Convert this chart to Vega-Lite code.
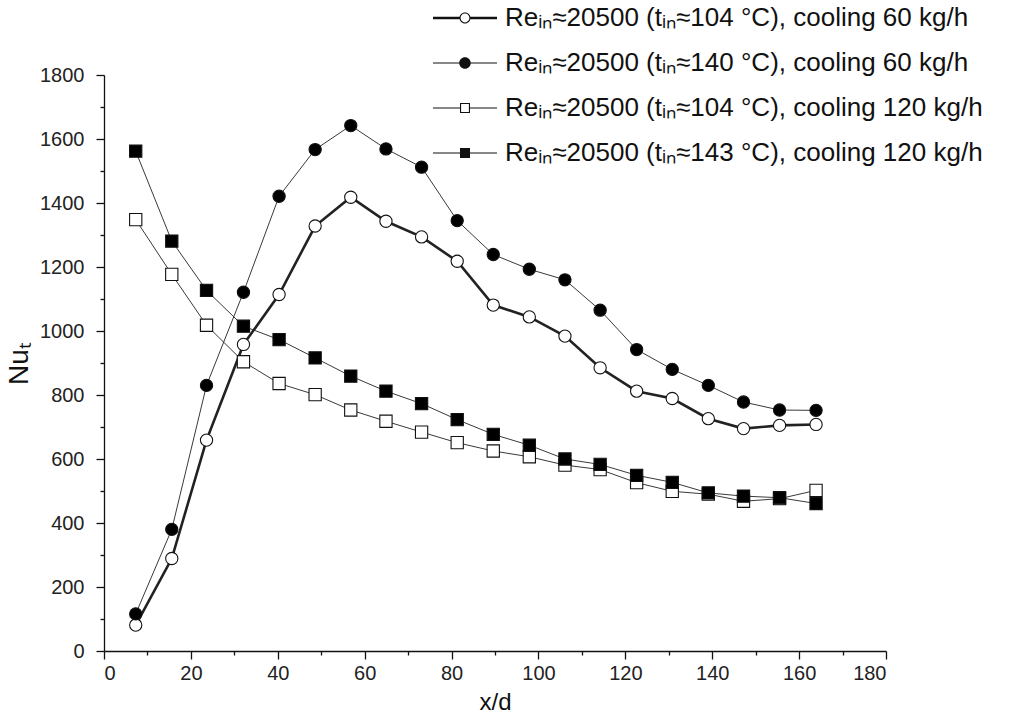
{
  "$schema": "https://vega.github.io/schema/vega-lite/v6.json",
  "width": 782,
  "height": 576,
  "autosize": {"type": "none"},
  "padding": {"left": 104, "top": 75, "right": 139, "bottom": 64},
  "background": "white",
  "config": {
    "font": "Liberation Sans",
    "view": {"stroke": null},
    "axis": {"labelFont": "Liberation Sans", "titleFont": "Liberation Sans", "labelColor": "#222", "titleColor": "#111", "domainColor": "#111", "tickColor": "#111", "domainWidth": 1.3, "tickWidth": 1.3, "grid": false, "titleFontWeight": "normal", "labelFontSize": 20, "titleFontSize": 24, "labelOverlap": false}
  },
  "datasets": {
    "pts": [
      {"s": "Reᵢₙ≈20500 (tᵢₙ≈104 °C), cooling 60 kg/h", "x": 7.3, "y": 81},
      {"s": "Reᵢₙ≈20500 (tᵢₙ≈104 °C), cooling 60 kg/h", "x": 15.6, "y": 289},
      {"s": "Reᵢₙ≈20500 (tᵢₙ≈104 °C), cooling 60 kg/h", "x": 23.6, "y": 659},
      {"s": "Reᵢₙ≈20500 (tᵢₙ≈104 °C), cooling 60 kg/h", "x": 32.1, "y": 958},
      {"s": "Reᵢₙ≈20500 (tᵢₙ≈104 °C), cooling 60 kg/h", "x": 40.3, "y": 1114},
      {"s": "Reᵢₙ≈20500 (tᵢₙ≈104 °C), cooling 60 kg/h", "x": 48.6, "y": 1328},
      {"s": "Reᵢₙ≈20500 (tᵢₙ≈104 °C), cooling 60 kg/h", "x": 56.8, "y": 1418},
      {"s": "Reᵢₙ≈20500 (tᵢₙ≈104 °C), cooling 60 kg/h", "x": 64.9, "y": 1343},
      {"s": "Reᵢₙ≈20500 (tᵢₙ≈104 °C), cooling 60 kg/h", "x": 73.1, "y": 1294},
      {"s": "Reᵢₙ≈20500 (tᵢₙ≈104 °C), cooling 60 kg/h", "x": 81.3, "y": 1218},
      {"s": "Reᵢₙ≈20500 (tᵢₙ≈104 °C), cooling 60 kg/h", "x": 89.6, "y": 1081},
      {"s": "Reᵢₙ≈20500 (tᵢₙ≈104 °C), cooling 60 kg/h", "x": 97.9, "y": 1044},
      {"s": "Reᵢₙ≈20500 (tᵢₙ≈104 °C), cooling 60 kg/h", "x": 106.1, "y": 984},
      {"s": "Reᵢₙ≈20500 (tᵢₙ≈104 °C), cooling 60 kg/h", "x": 114.2, "y": 885},
      {"s": "Reᵢₙ≈20500 (tᵢₙ≈104 °C), cooling 60 kg/h", "x": 122.6, "y": 812},
      {"s": "Reᵢₙ≈20500 (tᵢₙ≈104 °C), cooling 60 kg/h", "x": 130.8, "y": 789},
      {"s": "Reᵢₙ≈20500 (tᵢₙ≈104 °C), cooling 60 kg/h", "x": 139.1, "y": 726},
      {"s": "Reᵢₙ≈20500 (tᵢₙ≈104 °C), cooling 60 kg/h", "x": 147.2, "y": 695},
      {"s": "Reᵢₙ≈20500 (tᵢₙ≈104 °C), cooling 60 kg/h", "x": 155.5, "y": 705},
      {"s": "Reᵢₙ≈20500 (tᵢₙ≈104 °C), cooling 60 kg/h", "x": 163.9, "y": 708},

      {"s": "Reᵢₙ≈20500 (tᵢₙ≈140 °C), cooling 60 kg/h", "x": 7.3, "y": 116},
      {"s": "Reᵢₙ≈20500 (tᵢₙ≈140 °C), cooling 60 kg/h", "x": 15.6, "y": 380},
      {"s": "Reᵢₙ≈20500 (tᵢₙ≈140 °C), cooling 60 kg/h", "x": 23.6, "y": 830},
      {"s": "Reᵢₙ≈20500 (tᵢₙ≈140 °C), cooling 60 kg/h", "x": 32.1, "y": 1121},
      {"s": "Reᵢₙ≈20500 (tᵢₙ≈140 °C), cooling 60 kg/h", "x": 40.3, "y": 1421},
      {"s": "Reᵢₙ≈20500 (tᵢₙ≈140 °C), cooling 60 kg/h", "x": 48.6, "y": 1567},
      {"s": "Reᵢₙ≈20500 (tᵢₙ≈140 °C), cooling 60 kg/h", "x": 56.8, "y": 1642},
      {"s": "Reᵢₙ≈20500 (tᵢₙ≈140 °C), cooling 60 kg/h", "x": 64.9, "y": 1569},
      {"s": "Reᵢₙ≈20500 (tᵢₙ≈140 °C), cooling 60 kg/h", "x": 73.1, "y": 1512},
      {"s": "Reᵢₙ≈20500 (tᵢₙ≈140 °C), cooling 60 kg/h", "x": 81.3, "y": 1345},
      {"s": "Reᵢₙ≈20500 (tᵢₙ≈140 °C), cooling 60 kg/h", "x": 89.6, "y": 1239},
      {"s": "Reᵢₙ≈20500 (tᵢₙ≈140 °C), cooling 60 kg/h", "x": 97.9, "y": 1193},
      {"s": "Reᵢₙ≈20500 (tᵢₙ≈140 °C), cooling 60 kg/h", "x": 106.1, "y": 1160},
      {"s": "Reᵢₙ≈20500 (tᵢₙ≈140 °C), cooling 60 kg/h", "x": 114.2, "y": 1065},
      {"s": "Reᵢₙ≈20500 (tᵢₙ≈140 °C), cooling 60 kg/h", "x": 122.6, "y": 942},
      {"s": "Reᵢₙ≈20500 (tᵢₙ≈140 °C), cooling 60 kg/h", "x": 130.8, "y": 880},
      {"s": "Reᵢₙ≈20500 (tᵢₙ≈140 °C), cooling 60 kg/h", "x": 139.1, "y": 830},
      {"s": "Reᵢₙ≈20500 (tᵢₙ≈140 °C), cooling 60 kg/h", "x": 147.2, "y": 778},
      {"s": "Reᵢₙ≈20500 (tᵢₙ≈140 °C), cooling 60 kg/h", "x": 155.5, "y": 753},
      {"s": "Reᵢₙ≈20500 (tᵢₙ≈140 °C), cooling 60 kg/h", "x": 163.9, "y": 752},

      {"s": "Reᵢₙ≈20500 (tᵢₙ≈104 °C), cooling 120 kg/h", "x": 7.3, "y": 1348},
      {"s": "Reᵢₙ≈20500 (tᵢₙ≈104 °C), cooling 120 kg/h", "x": 15.6, "y": 1177},
      {"s": "Reᵢₙ≈20500 (tᵢₙ≈104 °C), cooling 120 kg/h", "x": 23.6, "y": 1018},
      {"s": "Reᵢₙ≈20500 (tᵢₙ≈104 °C), cooling 120 kg/h", "x": 32.1, "y": 904},
      {"s": "Reᵢₙ≈20500 (tᵢₙ≈104 °C), cooling 120 kg/h", "x": 40.3, "y": 836},
      {"s": "Reᵢₙ≈20500 (tᵢₙ≈104 °C), cooling 120 kg/h", "x": 48.6, "y": 801},
      {"s": "Reᵢₙ≈20500 (tᵢₙ≈104 °C), cooling 120 kg/h", "x": 56.8, "y": 753},
      {"s": "Reᵢₙ≈20500 (tᵢₙ≈104 °C), cooling 120 kg/h", "x": 64.9, "y": 718},
      {"s": "Reᵢₙ≈20500 (tᵢₙ≈104 °C), cooling 120 kg/h", "x": 73.1, "y": 684},
      {"s": "Reᵢₙ≈20500 (tᵢₙ≈104 °C), cooling 120 kg/h", "x": 81.3, "y": 651},
      {"s": "Reᵢₙ≈20500 (tᵢₙ≈104 °C), cooling 120 kg/h", "x": 89.6, "y": 625},
      {"s": "Reᵢₙ≈20500 (tᵢₙ≈104 °C), cooling 120 kg/h", "x": 97.9, "y": 607},
      {"s": "Reᵢₙ≈20500 (tᵢₙ≈104 °C), cooling 120 kg/h", "x": 106.1, "y": 581},
      {"s": "Reᵢₙ≈20500 (tᵢₙ≈104 °C), cooling 120 kg/h", "x": 114.2, "y": 567},
      {"s": "Reᵢₙ≈20500 (tᵢₙ≈104 °C), cooling 120 kg/h", "x": 122.6, "y": 526},
      {"s": "Reᵢₙ≈20500 (tᵢₙ≈104 °C), cooling 120 kg/h", "x": 130.8, "y": 499},
      {"s": "Reᵢₙ≈20500 (tᵢₙ≈104 °C), cooling 120 kg/h", "x": 139.1, "y": 490},
      {"s": "Reᵢₙ≈20500 (tᵢₙ≈104 °C), cooling 120 kg/h", "x": 147.2, "y": 468},
      {"s": "Reᵢₙ≈20500 (tᵢₙ≈104 °C), cooling 120 kg/h", "x": 155.5, "y": 476},
      {"s": "Reᵢₙ≈20500 (tᵢₙ≈104 °C), cooling 120 kg/h", "x": 163.9, "y": 502},

      {"s": "Reᵢₙ≈20500 (tᵢₙ≈143 °C), cooling 120 kg/h", "x": 7.3, "y": 1562},
      {"s": "Reᵢₙ≈20500 (tᵢₙ≈143 °C), cooling 120 kg/h", "x": 15.6, "y": 1281},
      {"s": "Reᵢₙ≈20500 (tᵢₙ≈143 °C), cooling 120 kg/h", "x": 23.6, "y": 1127},
      {"s": "Reᵢₙ≈20500 (tᵢₙ≈143 °C), cooling 120 kg/h", "x": 32.1, "y": 1015},
      {"s": "Reᵢₙ≈20500 (tᵢₙ≈143 °C), cooling 120 kg/h", "x": 40.3, "y": 973},
      {"s": "Reᵢₙ≈20500 (tᵢₙ≈143 °C), cooling 120 kg/h", "x": 48.6, "y": 916},
      {"s": "Reᵢₙ≈20500 (tᵢₙ≈143 °C), cooling 120 kg/h", "x": 56.8, "y": 859},
      {"s": "Reᵢₙ≈20500 (tᵢₙ≈143 °C), cooling 120 kg/h", "x": 64.9, "y": 812},
      {"s": "Reᵢₙ≈20500 (tᵢₙ≈143 °C), cooling 120 kg/h", "x": 73.1, "y": 773},
      {"s": "Reᵢₙ≈20500 (tᵢₙ≈143 °C), cooling 120 kg/h", "x": 81.3, "y": 723},
      {"s": "Reᵢₙ≈20500 (tᵢₙ≈143 °C), cooling 120 kg/h", "x": 89.6, "y": 677},
      {"s": "Reᵢₙ≈20500 (tᵢₙ≈143 °C), cooling 120 kg/h", "x": 97.9, "y": 643},
      {"s": "Reᵢₙ≈20500 (tᵢₙ≈143 °C), cooling 120 kg/h", "x": 106.1, "y": 600},
      {"s": "Reᵢₙ≈20500 (tᵢₙ≈143 °C), cooling 120 kg/h", "x": 114.2, "y": 583},
      {"s": "Reᵢₙ≈20500 (tᵢₙ≈143 °C), cooling 120 kg/h", "x": 122.6, "y": 549},
      {"s": "Reᵢₙ≈20500 (tᵢₙ≈143 °C), cooling 120 kg/h", "x": 130.8, "y": 527},
      {"s": "Reᵢₙ≈20500 (tᵢₙ≈143 °C), cooling 120 kg/h", "x": 139.1, "y": 494},
      {"s": "Reᵢₙ≈20500 (tᵢₙ≈143 °C), cooling 120 kg/h", "x": 147.2, "y": 484},
      {"s": "Reᵢₙ≈20500 (tᵢₙ≈143 °C), cooling 120 kg/h", "x": 155.5, "y": 479},
      {"s": "Reᵢₙ≈20500 (tᵢₙ≈143 °C), cooling 120 kg/h", "x": 163.9, "y": 461}
    ]
  },
  "data": {"name": "pts"},
  "encoding": {
    "x": {
      "field": "x", "type": "quantitative",
      "scale": {"domain": [0, 180], "nice": false, "zero": false},
      "axis": {
        "title": "x/d",
        "values": [0,10,20,30,40,50,60,70,80,90,100,110,120,130,140,150,160,170,180],
        "labelExpr": "datum.value % 20 === 0 ? datum.label : ''",
        "tickSize": {"condition": {"test": "datum.value % 20 !== 0", "value": 4}, "value": 8},
        "labelPadding": 4,
        "titlePadding": 7
      }
    },
    "y": {
      "field": "y", "type": "quantitative",
      "scale": {"domain": [0, 1800], "nice": false},
      "axis": {
        "title": "Nuₜ",
        "titleFontSize": 28,
        "values": [0,100,200,300,400,500,600,700,800,900,1000,1100,1200,1300,1400,1500,1600,1700,1800],
        "labelExpr": "datum.value % 200 === 0 ? datum.label : ''",
        "format": "d",
        "tickSize": {"condition": {"test": "datum.value % 200 !== 0", "value": 4}, "value": 8},
        "labelPadding": 12,
        "titlePadding": 6
      }
    }
  },
  "layer": [
    {
      "mark": {"type": "line", "color": "#222"},
      "encoding": {
        "detail": {"field": "s", "type": "nominal"},
        "strokeWidth": {
          "condition": {"test": "datum.s === 'Reᵢₙ≈20500 (tᵢₙ≈104 °C), cooling 60 kg/h'", "value": 2.6},
          "value": 0.9
        }
      }
    },
    {
      "mark": {"type": "point", "filled": false, "stroke": "#111", "strokeWidth": 1.1, "opacity": 1},
      "encoding": {
        "shape": {
          "field": "s", "type": "nominal",
          "scale": {
            "domain": ["Reᵢₙ≈20500 (tᵢₙ≈104 °C), cooling 60 kg/h", "Reᵢₙ≈20500 (tᵢₙ≈140 °C), cooling 60 kg/h", "Reᵢₙ≈20500 (tᵢₙ≈104 °C), cooling 120 kg/h", "Reᵢₙ≈20500 (tᵢₙ≈143 °C), cooling 120 kg/h"],
            "range": ["circle", "circle", "square", "square"]
          },
          "legend": null
        },
        "fill": {
          "field": "s", "type": "nominal",
          "scale": {
            "domain": ["Reᵢₙ≈20500 (tᵢₙ≈104 °C), cooling 60 kg/h", "Reᵢₙ≈20500 (tᵢₙ≈140 °C), cooling 60 kg/h", "Reᵢₙ≈20500 (tᵢₙ≈104 °C), cooling 120 kg/h", "Reᵢₙ≈20500 (tᵢₙ≈143 °C), cooling 120 kg/h"],
            "range": ["white", "black", "white", "black"]
          },
          "legend": null
        },
        "size": {
          "field": "s", "type": "nominal",
          "scale": {
            "domain": ["Reᵢₙ≈20500 (tᵢₙ≈104 °C), cooling 60 kg/h", "Reᵢₙ≈20500 (tᵢₙ≈140 °C), cooling 60 kg/h", "Reᵢₙ≈20500 (tᵢₙ≈104 °C), cooling 120 kg/h", "Reᵢₙ≈20500 (tᵢₙ≈143 °C), cooling 120 kg/h"],
            "range": [150, 150, 110, 110]
          },
          "legend": null
        }
      }
    },
    {
      "transform": [{"filter": "datum.x < 0"}],
      "mark": {"type": "point", "filled": true, "color": "#111", "opacity": 1},
      "encoding": {
        "shape": {
          "field": "s", "type": "nominal",
          "scale": {
            "domain": ["Reᵢₙ≈20500 (tᵢₙ≈104 °C), cooling 60 kg/h", "Reᵢₙ≈20500 (tᵢₙ≈140 °C), cooling 60 kg/h", "Reᵢₙ≈20500 (tᵢₙ≈104 °C), cooling 120 kg/h", "Reᵢₙ≈20500 (tᵢₙ≈143 °C), cooling 120 kg/h"],
            "range": [
              "M-1,-0.0375H-0.16V0.0375H-1Z M0.16,-0.0375H1V0.0375H0.16Z M0.172,0A0.172,0.172,0,1,1,-0.172,0A0.172,0.172,0,1,1,0.172,0Z M0.138,0A0.138,0.138,0,1,0,-0.138,0A0.138,0.138,0,1,0,0.138,0Z",
              "M-1,-0.018H-0.17V0.018H-1Z M0.17,-0.018H1V0.018H0.17Z M0.18,0A0.18,0.18,0,1,1,-0.18,0A0.18,0.18,0,1,1,0.18,0Z",
              "M-1,-0.018H-0.156V0.018H-1Z M0.156,-0.018H1V0.018H0.156Z M-0.156,-0.156H0.156V0.156H-0.156Z M-0.122,-0.122V0.122H0.122V-0.122Z",
              "M-1,-0.018H-0.156V0.018H-1Z M0.156,-0.018H1V0.018H0.156Z M-0.156,-0.156H0.156V0.156H-0.156Z"
            ]
          },
          "legend": {
            "title": null,
            "orient": "none",
            "legendX": 329,
            "legendY": -89,
            "labelFont": "Liberation Sans",
            "labelFontSize": 26,
            "labelColor": "#111",
            "labelLimit": 1000,
            "labelOffset": 8,
            "symbolSize": 4096,
            "symbolFillColor": "#111",
            "symbolStrokeWidth": 0,
            "rowPadding": -1.5
          }
        }
      }
    }
  ],
  "resolve": {
    "scale": {"shape": "independent"},
    "legend": {"shape": "independent"}
  }
}
